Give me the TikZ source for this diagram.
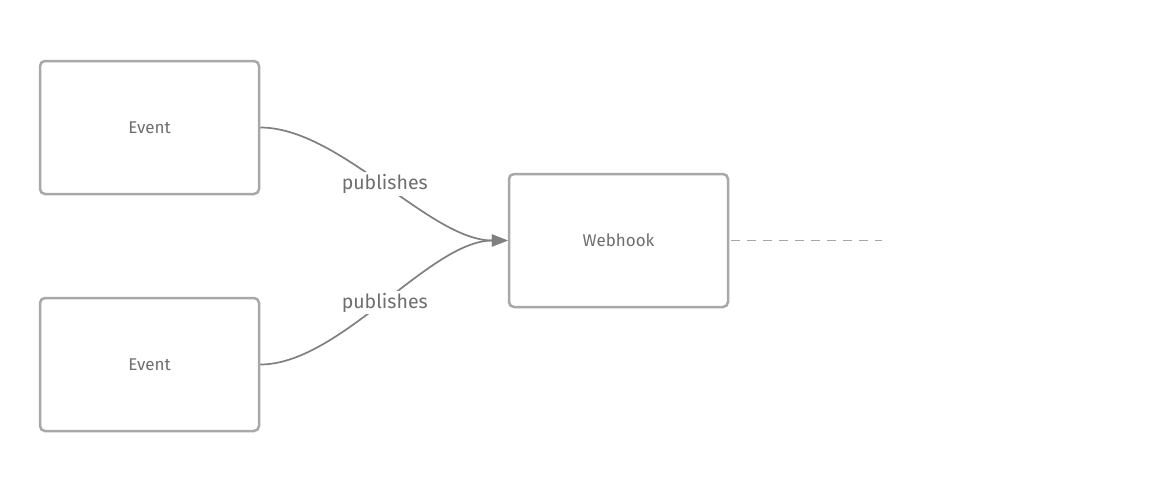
\documentclass[tikz,border=0pt]{standalone}
\usepackage{fontspec}
\setmainfont{Fira Sans}
\usetikzlibrary{arrows.meta}
\definecolor{boxline}{HTML}{A8A8A8}
\definecolor{txt}{HTML}{6E6E6E}
\definecolor{conn}{HTML}{808080}
\begin{document}
\begin{tikzpicture}[x=1pt,y=-1pt,
  box/.style={draw=boxline,line width=2.5pt,rounded corners=5pt,fill=white,
    minimum width=219pt,minimum height=133pt,inner sep=0pt,
    text=txt,font=\fontsize{17}{20}\selectfont},
  conn/.style={draw=conn,line width=1.7pt,-{Triangle[length=16pt,width=12pt]}},
  lbl/.style={fill=white,text=txt,font=\fontsize{19.5}{22}\selectfont,inner sep=2pt}]
\useasboundingbox[fill=white] (0,0) rectangle (1162,490);
\node[box] (e1) at (149.5,127.5) {Event};
\node[box] (e2) at (149.5,364.5) {Event};
\node[box] (w) at (618.5,240.5) {Webhook};
\coordinate (end) at (882,240.5);
\draw[conn] (e1.east) .. controls (340,127.5) and (430,240.5) .. (w.west)
  node[lbl,pos=0.5] {publishes};
\draw[conn] (e2.east) .. controls (340,364.5) and (430,240.5) .. (w.west)
  node[lbl,pos=0.5] {publishes};
\draw[draw=boxline,line width=1.7pt,dash pattern=on 9pt off 7pt] (w.east) ++(2,0) -- (end);
\end{tikzpicture}
\end{document}
